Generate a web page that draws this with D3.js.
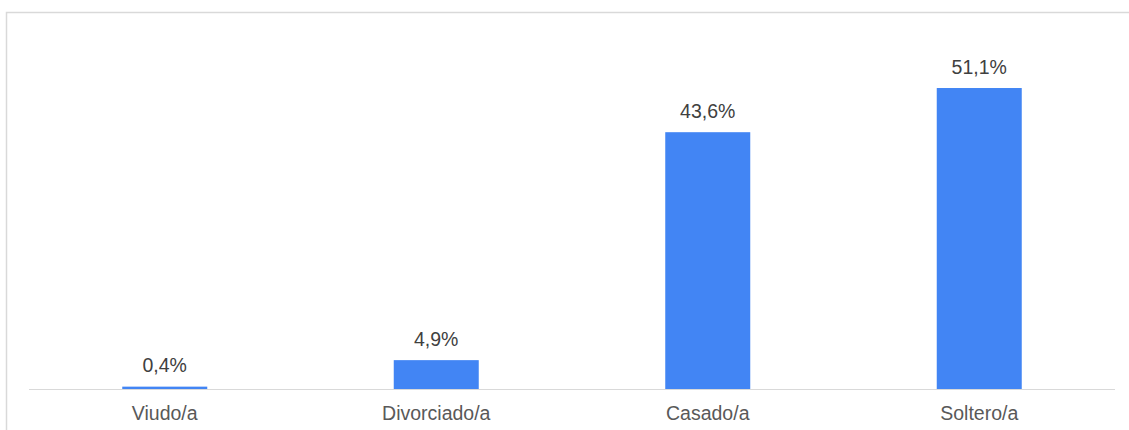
<!DOCTYPE html>
<html><head><meta charset="utf-8">
<script src="https://cdn.jsdelivr.net/npm/d3@7"></script>
<style>html,body{margin:0;padding:0;background:#fff;overflow:hidden}</style>
</head><body>
<script>
const categories = ["Viudo/a", "Divorciado/a", "Casado/a", "Soltero/a"];
const values = [0.4, 4.9, 43.6, 51.1];
const labels = ["0,4%", "4,9%", "43,6%", "51,1%"];

const W = 1129, H = 430;
const svg = d3.select("body").append("svg").attr("width", W).attr("height", H);

svg.append("rect").attr("x", 6.5).attr("y", 12.5).attr("width", 1300).attr("height", 600)
  .attr("fill", "none").attr("stroke", "#d9d9d9").attr("stroke-width", 1.5);

const x = d3.scaleBand().domain(categories).range([29, 1115]).padding(0);
const y = d3.scaleLinear().domain([0, 60]).range([389, 35.6]);
const bw = 85;

svg.selectAll("rect.bar").data(categories).join("rect").attr("class", "bar")
  .attr("x", d => x(d) + (x.bandwidth() - bw) / 2)
  .attr("width", bw)
  .attr("y", (d, i) => y(values[i]))
  .attr("height", (d, i) => y(0) - y(values[i]))
  .attr("fill", "#4285F4");

svg.append("line").attr("x1", 29).attr("x2", 1115).attr("y1", 389.5).attr("y2", 389.5)
  .attr("stroke", "#d9d9d9").attr("stroke-width", 1.2);

svg.selectAll("text.val").data(categories).join("text").attr("class", "val")
  .attr("x", d => x(d) + x.bandwidth() / 2)
  .attr("y", (d, i) => Math.min(y(values[i]) - 14.5, 375))
  .attr("text-anchor", "middle")
  .attr("font-family", "Liberation Sans, Arial, sans-serif")
  .attr("font-size", "19.5px").attr("fill", "#404040")
  .text((d, i) => labels[i]);

svg.selectAll("text.cat").data(categories).join("text").attr("class", "cat")
  .attr("x", d => x(d) + x.bandwidth() / 2)
  .attr("y", 420)
  .attr("text-anchor", "middle")
  .attr("font-family", "Liberation Sans, Arial, sans-serif")
  .attr("font-size", "19.5px").attr("fill", "#595959")
  .text(d => d);
</script>
</body></html>
